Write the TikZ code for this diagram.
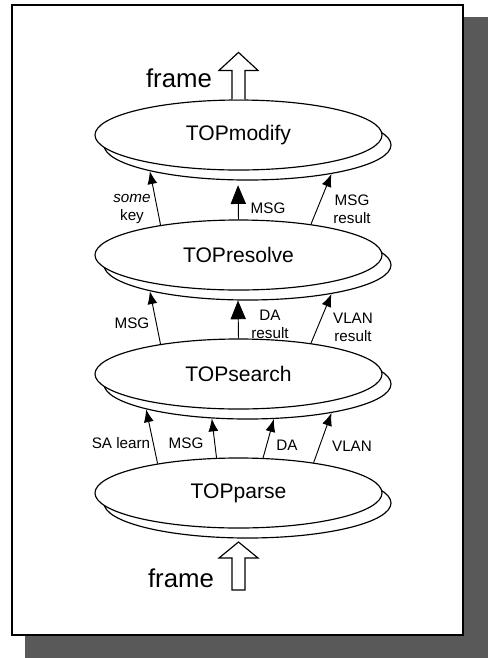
\documentclass[tikz,border=0pt]{standalone}
\usepackage{fontspec}
\setmainfont{Liberation Sans}
\usetikzlibrary{shapes.geometric,arrows.meta}

\begin{document}
\begin{tikzpicture}[x=0.03cm,y=-0.03cm,
		tang/.style={draw,fill=white,ellipse,line width=1pt,minimum width=8.61cm,minimum height=2.1cm,inner sep=0pt,font=\fontsize{18}{20}\selectfont},
		mui/.style={-{Latex[length=11pt,width=8.5pt]},line width=0.8pt},
		muiday/.style={-{Triangle[length=16pt,width=13pt]},line width=0.8pt},
		nhan/.style={font=\fontsize{13}{15.5}\selectfont,align=center,inner sep=0pt},
		khung/.style={font=\fontsize{22}{24}\selectfont,anchor=base,inner sep=0pt}]
	\useasboundingbox (0,0) rectangle (488,658);
	
	% Khung và bóng
	\fill[black!65] (25,17) rectangle (488,658);
	\filldraw[fill=white,line width=1.2pt] (12,5) rectangle (463,635);
	
	% Các tầng (lớp phía sau)
	\node[tang] (modifyb) at (247.5,145) {};
	\node[tang] (resolveb) at (247.5,265) {};
	\node[tang] (searchb) at (247.5,384) {};
	\node[tang] (parseb) at (247.5,503) {};
	
	% Các tầng (lớp phía trước)
	\node[tang] (modify) at (238.5,135) {TOPmodify};
	\node[tang] (resolve) at (238.5,255) {TOPresolve};
	\node[tang] (search) at (238.5,374) {TOPsearch};
	\node[tang] (parse) at (238.5,493) {TOPparse};
	
	% Mũi tên giữa các tầng
	\draw[mui] (resolve.159) -- (modifyb.195);
	\draw[muiday,shorten >=4pt] (resolve.90) -- (modifyb.255);
	\draw[mui] (resolve.23) -- (modifyb.341);
	
	\draw[mui] (search.159) -- (resolveb.195);
	\draw[muiday] (search.90) -- (resolveb.255);
	\draw[mui] (search.23) -- (resolveb.341);
	
	\draw[mui] (parse.160) -- (searchb.194);
	\draw[mui] (parse.122) -- (searchb.224);
	\draw[mui] (parse.55) -- (searchb.307);
	\draw[mui] (parse.22) -- (searchb.341);
	
	% Nhãn
	\node[nhan] (somekey) at (132,209) {\textit{some}\\key};
	\node[nhan] (msga) at (268,208) {MSG};
	\node[nhan] (msgres) at (352,209) {MSG\\result};
	
	\node[nhan] (msgb) at (132,323) {MSG};
	\node[nhan] (dares) at (270,324) {DA\\result};
	\node[nhan] (vlanres) at (353,327) {VLAN\\result};
	
	\node[nhan] (salearn) at (121,443) {SA learn};
	\node[nhan] (msgc) at (186,443) {MSG};
	\node[nhan] (da) at (287,445) {DA};
	\node[nhan] (vlan) at (352,446) {VLAN};
	
	% Khung vào / ra
	\node[khung] (framera) at (179,87) {frame};
	\draw[line width=1pt,fill=white] (modify.north) ++(-6.5,0) -- ++(0,-29) -- ++(-13,0) -- ++(19.5,-18) -- ++(19.5,18) -- ++(-13,0) -- ++(0,29);
	
	\node[khung] (framevao) at (181,587) {frame};
	\coordinate (vao) at (238.5,542);
	\draw[line width=1pt,fill=white] (vao) -- ++(19.5,16) -- ++(-13,0) -- ++(0,32) -- ++(-13,0) -- ++(0,-32) -- ++(-13,0) -- cycle;
\end{tikzpicture}
\end{document}
